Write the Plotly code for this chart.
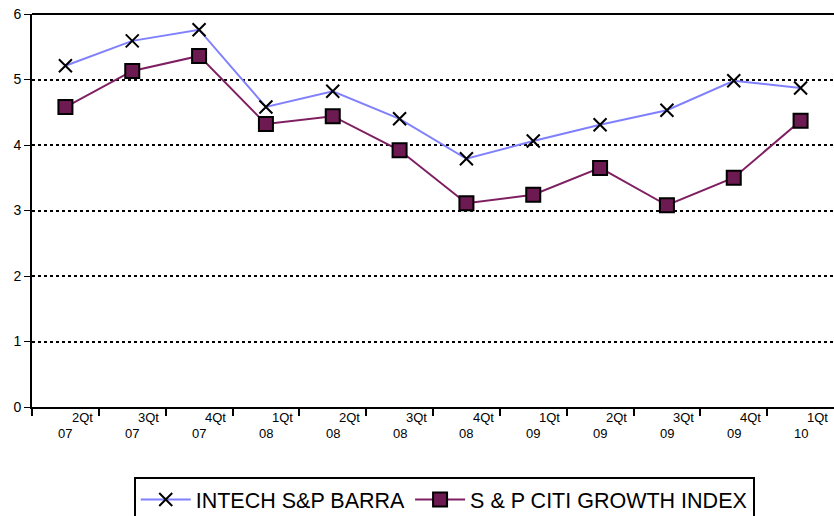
import plotly.graph_objects as go

quarters = ["2Qt", "3Qt", "4Qt", "1Qt", "2Qt", "3Qt", "4Qt", "1Qt", "2Qt", "3Qt", "4Qt", "1Qt"]
years = ["07", "07", "07", "08", "08", "08", "08", "09", "09", "09", "09", "10"]
intech = [5.21, 5.59, 5.76, 4.58, 4.82, 4.40, 3.79, 4.06, 4.31, 4.53, 4.98, 4.87]
citi = [4.58, 5.13, 5.36, 4.32, 4.44, 3.92, 3.11, 3.24, 3.65, 3.08, 3.50, 4.37]

xs = list(range(len(quarters)))

fig = go.Figure()
fig.add_trace(go.Scatter(
    name="INTECH S&P BARRA",
    x=xs, y=intech,
    mode="lines+markers",
    line=dict(color="#8080ff", width=2),
    marker=dict(symbol="x-thin", size=13, color="black",
                line=dict(color="black", width=2)),
))
fig.add_trace(go.Scatter(
    name="S & P CITI GROWTH INDEX",
    x=xs, y=citi,
    mode="lines+markers",
    line=dict(color="#7f1f62", width=2),
    marker=dict(symbol="square", size=14, color="#6e1a52",
                line=dict(color="black", width=2)),
))

# two-row category labels under each quarter
for i, (q, yr) in enumerate(zip(quarters, years)):
    fig.add_annotation(x=i + 0.25, y=0, xref="x", yref="paper", text=q,
                       showarrow=False, yshift=-20,
                       font=dict(family="Liberation Sans", size=13, color="black"))
    fig.add_annotation(x=i, y=0, xref="x", yref="paper", text=yr,
                       showarrow=False, yshift=-36,
                       font=dict(family="Liberation Sans", size=13, color="black"))

fig.add_shape(type="line", xref="paper", yref="paper", x0=0, x1=1, y0=1, y1=1,
              line=dict(color="black", width=2))

fig.update_layout(
    width=834, height=516,
    margin=dict(l=32, r=0, t=14, b=109, autoexpand=False),
    plot_bgcolor="white", paper_bgcolor="white",
    font=dict(family="Liberation Sans", color="black"),
    showlegend=True,
    xaxis=dict(
        range=[-0.5, 11.5],
        tickvals=[i - 0.5 for i in xs],
        ticktext=["" for _ in xs],
        ticks="outside", ticklen=7, tickwidth=2, tickcolor="black",
        showline=True, linecolor="black", linewidth=2,
        showgrid=False, zeroline=False,
    ),
    yaxis=dict(
        range=[0, 6],
        tickvals=[0, 1, 2, 3, 4, 5, 6],
        ticks="outside", ticklen=6, tickwidth=1, tickcolor="black",
        tickfont=dict(size=14),
        showline=True, linecolor="black", linewidth=2,
        showgrid=True, gridcolor="black", griddash="dot", gridwidth=1.5,
        zeroline=False,
    ),
    legend=dict(
        orientation="h", x=0.514, xanchor="center", y=-0.178, yanchor="top",
        font=dict(size=21.5, family="Liberation Sans"),
        bordercolor="black", borderwidth=2,
        bgcolor="white", itemwidth=50,
    ),
)

fig.write_html("out.html", config={"displayModeBar": False},
               post_script="document.body.style.margin='0';")
